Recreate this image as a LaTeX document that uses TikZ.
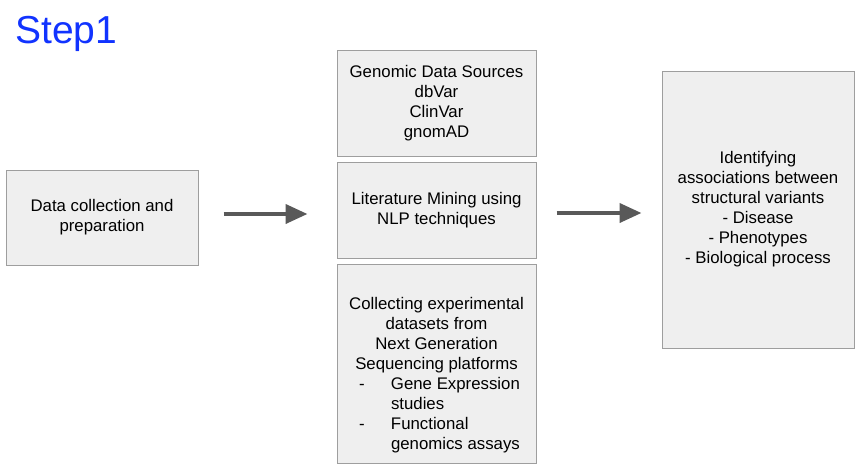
\documentclass[tikz,border=0pt]{standalone}
\usepackage{fontspec}
\setmainfont{Liberation Sans}
\usepackage{tikz}
\usetikzlibrary{arrows.meta}

\definecolor{boxfill}{HTML}{EFEFEF}
\definecolor{boxline}{HTML}{9E9E9E}
\definecolor{arrowgray}{HTML}{595959}
\definecolor{stepblue}{RGB}{17,51,255}

\newcommand{\listline}[1]{\makebox[175pt][l]{\hspace{10pt}\makebox[32pt][l]{-}#1}}
\newcommand{\listcont}[1]{\makebox[175pt][l]{\hspace{42pt}#1}}

\begin{document}
\begin{tikzpicture}[x=1pt, y=-1pt,
  stage/.style={draw=boxline, line width=1pt, fill=boxfill, inner sep=0pt,
    align=center, font=\fontsize{16.8}{20}\selectfont},
  flow/.style={draw=arrowgray, line width=4pt, -{Triangle[length=22pt,width=19pt]}}]

\useasboundingbox (0,0) rectangle (864,471);

\node[anchor=base west, inner sep=0pt, text=stepblue, font=\fontsize{39}{39}\selectfont]
  (title) at (15,43) {Step1};

\node[stage, minimum width=192pt, minimum height=95pt] (dc) at (102,217.5)
  {Data collection and\\preparation};

% sources
\node[stage, minimum width=199pt, minimum height=106pt] (gds) at (436.5,103)
  {Genomic Data Sources\\dbVar\\ClinVar\\gnomAD};
\node[stage, minimum width=199pt, minimum height=96pt] (lit) at (436.5,210)
  {Literature Mining using\\NLP techniques};
\node[stage, minimum width=199pt, minimum height=199pt] (ngs) at (436.5,363.5)
  {\rule{0pt}{35pt}Collecting experimental\\datasets from\\Next Generation\\Sequencing platforms\\
   \listline{Gene Expression}\\\listcont{studies}\\
   \listline{Functional}\\\listcont{genomics assays}};

\node[stage, minimum width=192pt, minimum height=277pt] (assoc) at (758,209.5)
  {Identifying\\associations between\\structural variants\\- Disease\\- Phenotypes\\- Biological process};

\draw[flow, shorten <=25pt, shorten >=29pt] ([yshift=3.5pt]dc.east) -- ([yshift=-4pt]lit.west);
\draw[flow, shorten <=20pt, shorten >=20pt] ([yshift=-3pt]lit.east) -- ([yshift=-3.5pt]assoc.west);

\end{tikzpicture}
\end{document}
